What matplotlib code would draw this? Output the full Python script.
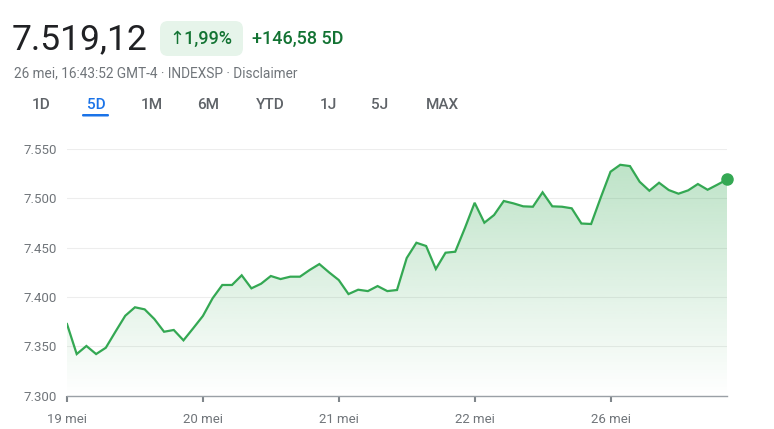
#!/usr/bin/env python3

import matplotlib
matplotlib.use("Agg")
import matplotlib.pyplot as plt
import numpy as np
from matplotlib.colors import to_rgb
from matplotlib.patches import FancyBboxPatch

plt.rcParams["font.family"] = ["Roboto", "DejaVu Sans"]

# 30-minute quotes, 14 intervals per trading day
days = ["19 mei", "20 mei", "21 mei", "22 mei", "26 mei"]
day_start_idx = [0, 14, 28, 42, 56]
prices = [
    7372.6, 7342.2, 7350.4, 7342.2, 7348.6, 7365.0, 7381.0, 7389.6, 7387.5,
    7377.7, 7364.8, 7366.6, 7356.1, 7368.3, 7380.8,
    7398.7, 7412.2, 7412.2, 7422.0, 7408.8, 7413.5, 7421.3, 7418.2, 7420.6,
    7420.6, 7427.4, 7433.4, 7425.0, 7417.2,
    7403.0, 7407.4, 7406.0, 7411.1, 7406.0, 7407.1, 7439.5, 7455.0, 7451.7,
    7428.4, 7444.9, 7445.9, 7470.0, 7495.5,
    7475.3, 7483.1, 7497.3, 7494.9, 7491.9, 7491.5, 7506.1, 7491.9, 7491.5,
    7489.9, 7474.5, 7474.0, 7501.0, 7527.0,
    7534.0, 7532.7, 7516.8, 7507.7, 7515.8, 7508.4, 7504.7, 7508.1, 7514.5,
    7508.7, 7513.8, 7519.1,
]
yticks = [7300, 7350, 7400, 7450, 7500, 7550]
ytick_labels = ["7.300", "7.350", "7.400", "7.450", "7.500", "7.550"]
tabs = ["1D", "5D", "1M", "6M", "YTD", "1J", "5J", "MAX"]
tab_x = [41, 96, 152, 208, 270, 328, 380, 442]

GREEN = "#34a853"
DARK_GREEN = "#137333"
GREY = "#70757a"

W, H = 774, 429
fig = plt.figure(figsize=(W / 100, H / 100), dpi=100)

# header drawn in pixel coordinates
hdr = fig.add_axes([0, 0, 1, 1])
hdr.set_xlim(0, W)
hdr.set_ylim(H, 0)
hdr.axis("off")

hdr.text(12, 40, "7.519,12", fontsize=25.5, color="#202124", va="center", ha="left")
hdr.add_patch(FancyBboxPatch((160, 21), 83, 35, boxstyle="round,pad=0,rounding_size=8",
                             facecolor="#e6f4ea", edgecolor="none"))
hdr.text(201, 39, "\u21911,99%", fontsize=13, color=DARK_GREEN, va="center", ha="center",
         fontweight="medium")
hdr.text(252, 39, "+146,58 5D", fontsize=13, color=DARK_GREEN, va="center", ha="left",
         fontweight="medium")
hdr.text(14, 73, "26 mei, 16:43:52 GMT-4 \u00b7 INDEXSP \u00b7 Disclaimer", fontsize=9.8,
         color=GREY, va="center", ha="left")

for label, x in zip(tabs, tab_x):
    color = "#1a73e8" if label == "5D" else "#5f6368"
    hdr.text(x, 105, label, fontsize=11, color=color, va="center", ha="center",
             fontweight="medium")
hdr.add_patch(FancyBboxPatch((82, 114), 27, 2.5, boxstyle="round,pad=0,rounding_size=1.2",
                             facecolor="#1a73e8", edgecolor="none"))

# chart
left, right, top, bottom = 67, 727, 149, 395.7
ax = fig.add_axes([left / W, 1 - bottom / H, (right - left) / W, (bottom - top) / H])
x = np.arange(len(prices))
ax.set_xlim(0, len(prices) - 1)
ax.set_ylim(yticks[0], yticks[-1])

for s in ["top", "right", "left"]:
    ax.spines[s].set_visible(False)
ax.spines["bottom"].set_color("#9aa0a6")
ax.spines["bottom"].set_linewidth(1)

ax.set_yticks(yticks)
ax.set_yticklabels(ytick_labels)
ax.set_xticks(day_start_idx)
ax.set_xticklabels(days)
ax.tick_params(axis="y", length=0, pad=7, labelsize=9.5, labelcolor=GREY)
ax.tick_params(axis="x", length=4.5, width=1.5, color="#80868b", pad=8,
               labelsize=9.5, labelcolor=GREY)
ax.grid(axis="y", color="#ededed", linewidth=0.8)
ax.set_axisbelow(True)

# gradient fill under the line
poly = ax.fill_between(x, prices, yticks[0], facecolor="none", edgecolor="none")
rgb = to_rgb(GREEN)
grad = np.zeros((256, 1, 4))
grad[:, 0, :3] = rgb
grad[:, 0, 3] = np.linspace(0.32, 0.0, 256)
img = ax.imshow(grad, extent=[0, len(prices) - 1, yticks[0], max(prices)],
                aspect="auto", origin="upper", zorder=1)
img.set_clip_path(poly.get_paths()[0], transform=ax.transData)

ax.plot(x, prices, color=GREEN, linewidth=1.6, zorder=3, solid_joinstyle="miter")
ax.plot(x[-1], prices[-1], "o", color=GREEN, markersize=8, zorder=4, clip_on=False)

fig.savefig("out.png", dpi=100)
